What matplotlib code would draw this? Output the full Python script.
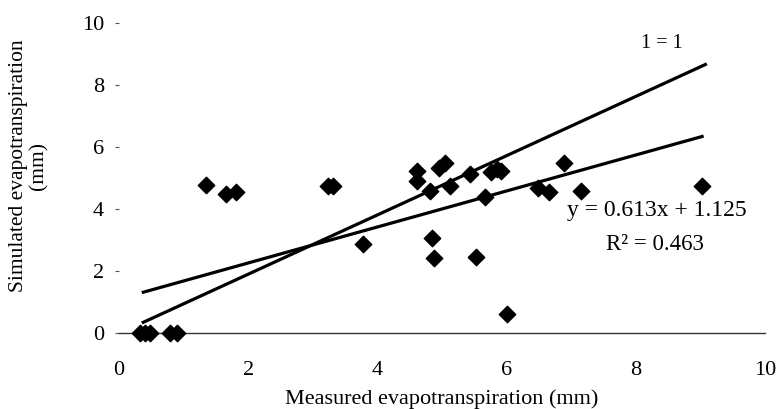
import numpy as np
import matplotlib.pyplot as plt

plt.rcParams["font.family"] = ["Liberation Serif", "DejaVu Serif"]

# measured vs simulated evapotranspiration (mm)
measured = [0.33, 0.40, 0.48, 0.79, 0.90, 1.34, 1.65, 1.81, 3.23, 3.31,
            3.77, 4.61, 4.61, 4.82, 4.85, 4.88, 4.95, 5.04, 5.12, 5.43,
            5.52, 5.66, 5.76, 5.85, 5.92, 6.00, 6.48, 6.65, 6.89, 7.15, 9.03]
simulated = [0.0, 0.0, 0.0, 0.0, 0.0, 4.77, 4.48, 4.55, 4.74, 4.74,
             2.87, 5.23, 4.90, 4.58, 3.06, 2.42, 5.32, 5.48, 4.74, 5.13,
             2.45, 4.39, 5.20, 5.30, 5.22, 0.61, 4.68, 4.55, 5.48, 4.58, 4.74]

# the two lines as they appear in the figure
one_x = [0.35, 9.10]
one_y = [0.32, 8.68]
fit_x = [0.35, 9.05]
fit_y = [1.30, 6.35]

xticks = [0, 2, 4, 6, 8, 10]
yticks = [0, 2, 4, 6, 8, 10]

fig = plt.figure(figsize=(7.79, 4.09), dpi=100)
ax = fig.add_axes([0.153, 0.186, 0.829, 0.758])

ax.plot(one_x, one_y, color="black", linewidth=2.3, solid_capstyle="butt")
ax.plot(fit_x, fit_y, color="black", linewidth=2.3, solid_capstyle="butt")
ax.scatter(measured, simulated, marker="D", s=70, color="black", zorder=3,
           clip_on=False)

ax.text(8.4, 9.35, "1 = 1", fontsize=14.5, ha="center", va="center")
ax.text(8.33, 3.94, "y = 0.613x + 1.125", fontsize=17, ha="center", va="center")
ax.text(8.3, 2.84, "R\u00b2 = 0.463", fontsize=16.5, ha="center", va="center")

ax.set_xlim(0, 10)
ax.set_ylim(0, 10)
ax.set_xticks(xticks)
ax.set_yticks(yticks)
ax.tick_params(axis="x", length=0, pad=20, labelsize=16)
ax.tick_params(axis="y", length=3, width=0.8, color="#555555", pad=8, labelsize=16)

for side in ["top", "right", "left"]:
    ax.spines[side].set_visible(False)
ax.spines["bottom"].set_linewidth(1.0)
ax.spines["bottom"].set_color("#333333")

ax.set_xlabel("Measured evapotranspiration (mm)", fontsize=16, labelpad=7)
ax.set_ylabel("Simulated evapotranspiration\n(mm)", fontsize=15.5,
              linespacing=1.05)
ax.yaxis.set_label_coords(-0.11, 0.54)

fig.savefig("out.png", dpi=100)
